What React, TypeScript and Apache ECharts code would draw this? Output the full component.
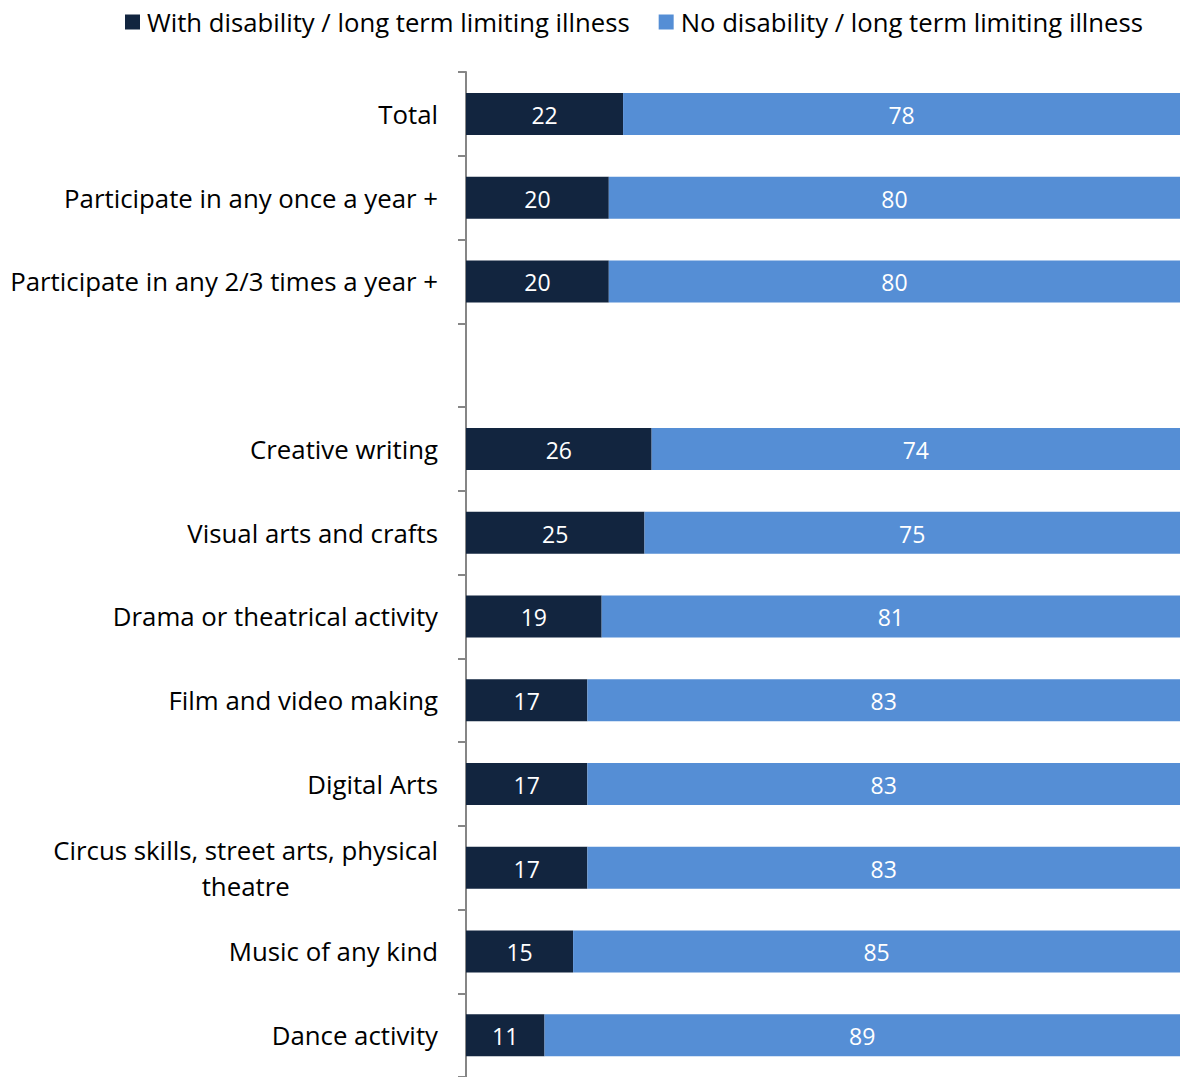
import React, { useEffect, useRef } from "react";
import * as echarts from "echarts";

const categories = [
  "Total",
  "Participate in any once a year +",
  "Participate in any 2/3 times a year +",
  "",
  "Creative writing",
  "Visual arts and crafts",
  "Drama or theatrical activity",
  "Film and video making",
  "Digital Arts",
  "Circus skills, street arts, physical\ntheatre",
  "Music of any kind",
  "Dance activity",
];
const withDisability: (number | string)[] = [22, 20, 20, "-", 26, 25, 19, 17, 17, 17, 15, 11];
const noDisability: (number | string)[] = [78, 80, 80, "-", 74, 75, 81, 83, 83, 83, 85, 89];
const seriesNames = ["With disability / long term limiting illness", "No disability / long term limiting illness"];

const FONT = "Open Sans";

export default function App() {
  const ref = useRef<HTMLDivElement>(null);
  useEffect(() => {
    const chart = echarts.init(ref.current!, null, { renderer: "svg" });
    chart.setOption({
      animation: false,
      textStyle: { fontFamily: FONT },
      legend: {
        top: 4,
        left: 120,
        itemWidth: 15,
        itemHeight: 15,
        itemGap: 29,
        icon: "rect",
        textStyle: { fontFamily: FONT, fontSize: 25.7, color: "#000", padding: [0, 0, 0, 2] },
        data: seriesNames,
      },
      grid: { left: 466, right: 1, top: 72, height: 1009, containLabel: false },
      xAxis: { type: "value", min: 0, max: 100, show: false },
      yAxis: {
        type: "category",
        inverse: true,
        data: categories,
        axisLine: { show: true, lineStyle: { color: "#868686", width: 2 } },
        axisTick: { show: true, length: 8, lineStyle: { color: "#868686", width: 2 } },
        axisLabel: {
          margin: 28,
          fontFamily: FONT,
          fontSize: 25.8,
          color: "#000",
          lineHeight: 36,
          formatter: (v: string) =>
            v
              .split("\n")
              .map((l) => (l ? `{c|${l}}` : ""))
              .join("\n"),
          rich: { c: { align: "center", fontFamily: FONT, fontSize: 25.8, color: "#000", lineHeight: 36 } },
        },
      },
      series: [
        {
          name: seriesNames[0],
          type: "bar",
          stack: "s",
          barWidth: 42,
          data: withDisability,
          itemStyle: { color: "#12253F" },
          label: { show: true, position: "inside", color: "#fff", fontSize: 23, fontFamily: FONT, offset: [0, 1] },
        },
        {
          name: seriesNames[1],
          type: "bar",
          stack: "s",
          barWidth: 42,
          data: noDisability,
          itemStyle: { color: "#558ED5" },
          label: { show: true, position: "inside", color: "#fff", fontSize: 23, fontFamily: FONT, offset: [0, 1] },
        },
      ],
    });
    return () => chart.dispose();
  }, []);
  return (
    <div
      ref={ref}
      style={{ position: "absolute", left: 0, top: 0, width: 1181, height: 1077, background: "#fff" }}
    />
  );
}
